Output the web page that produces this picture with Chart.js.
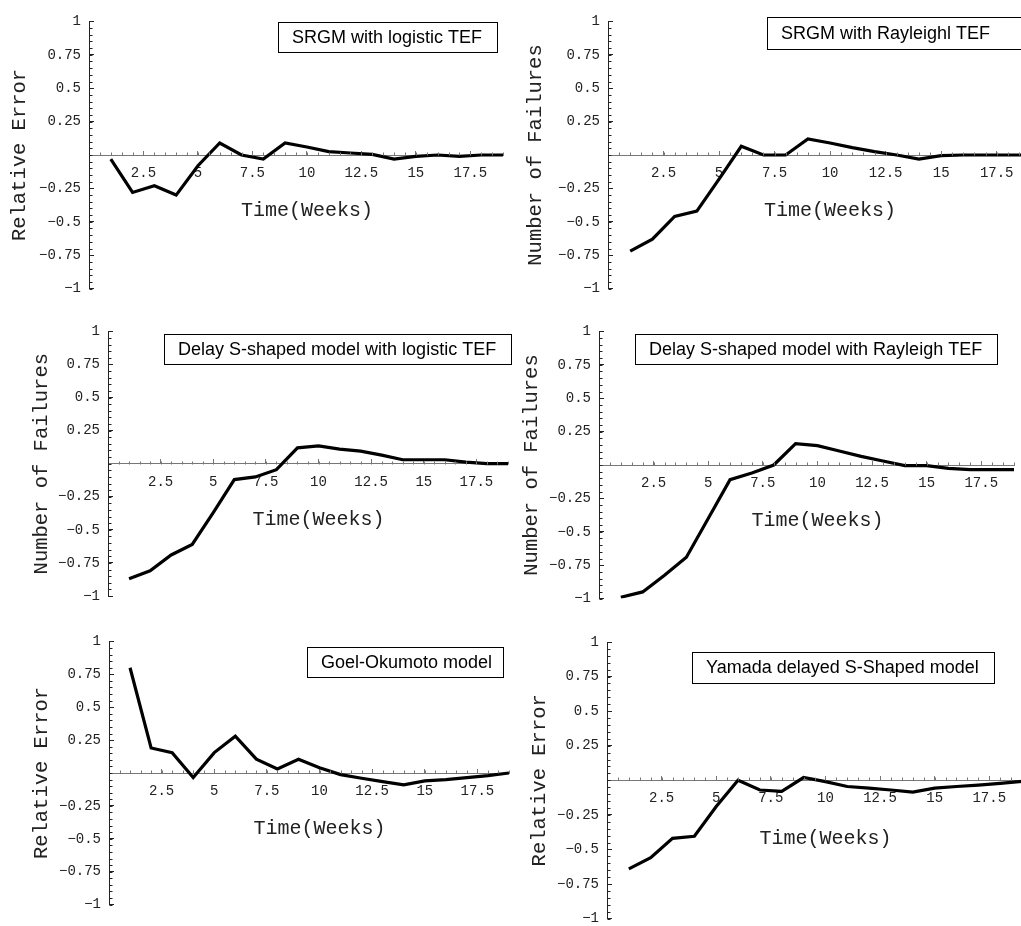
<!DOCTYPE html>
<html>
<head>
<meta charset="utf-8">
<script src="https://cdn.jsdelivr.net/npm/chart.js@4.4.1/dist/chart.umd.min.js"></script>
<style>
  html, body { margin: 0; padding: 0; background: #fff; overflow: hidden; width: 1021px; height: 926px; }
  canvas { position: absolute; }
</style>
</head>
<body>
<script>
// weeks on the x axis
const weeks = [1, 2, 3, 4, 5, 6, 7, 8, 9, 10, 11, 12, 13, 14, 15, 16, 17, 18, 19];

// relative error series
const srgmLogistic  = [-0.03, -0.28, -0.23, -0.30, -0.08, 0.09, 0.0, -0.03, 0.09, 0.06, 0.025, 0.015, 0.005, -0.03, -0.01, 0.0, -0.01, 0.0, 0.0];
const srgmRayleigh  = [-0.72, -0.63, -0.46, -0.42, -0.18, 0.065, 0.0, 0.0, 0.12, 0.09, 0.055, 0.025, 0.0, -0.03, -0.005, 0.0, 0.0, 0.0, 0.0];
const delayLogistic = [-0.87, -0.81, -0.69, -0.61, -0.37, -0.12, -0.10, -0.045, 0.12, 0.135, 0.11, 0.095, 0.065, 0.03, 0.03, 0.03, 0.012, 0.0, 0.0];
const delayRayleigh = [-0.99, -0.95, -0.825, -0.69, -0.40, -0.11, -0.06, 0.0, 0.16, 0.145, 0.105, 0.065, 0.03, -0.005, -0.005, -0.025, -0.035, -0.035, -0.035];
const goelOkumoto   = [0.80, 0.19, 0.155, -0.035, 0.155, 0.28, 0.105, 0.03, 0.105, 0.04, -0.012, -0.04, -0.065, -0.09, -0.06, -0.05, -0.035, -0.02, 0.0];
const yamadaDelayed = [-0.64, -0.56, -0.42, -0.405, -0.19, 0.0, -0.07, -0.08, 0.02, -0.01, -0.045, -0.057, -0.07, -0.085, -0.057, -0.045, -0.035, -0.022, -0.008];

// tick labels
const xTicks = [2.5, 5, 7.5, 10, 12.5, 15, 17.5];
const yTicks = [1, 0.75, 0.5, 0.25, -0.25, -0.5, -0.75, -1];

const MONO = '"Liberation Mono", "Courier New", monospace';
const SANS = '"Liberation Sans", Arial, sans-serif';

// axisLeft is where the y axis sits inside each canvas
const panels = [
  { data: srgmLogistic,  label: 'SRGM with logistic TEF',                yTitle: 'Relative Error',
    rect: [0, 0, 515, 310],     axisLeft: 89,  pad: { right: 12, top: 16, bottom: 16 },  box: [278, 22, 219, 30], yTitleX: 20 },
  { data: srgmRayleigh,  label: 'SRGM with Rayleighl TEF',               yTitle: 'Number of Failures',
    rect: [510, 0, 530, 310],   axisLeft: 98,  pad: { right: 10, top: 13, bottom: 14 },  box: [257, 17, 290, 32], yTitleX: 26 },
  { data: delayLogistic, label: 'Delay S-shaped model with logistic TEF', yTitle: 'Number of Failures',
    rect: [0, 310, 515, 310],   axisLeft: 108, pad: { right: 7, top: 16, bottom: 24 },   box: [164, 24, 347, 30], yTitleX: 42 },
  { data: delayRayleigh, label: 'Delay S-shaped model with Rayleigh TEF', yTitle: 'Number of Failures',
    rect: [510, 310, 530, 310], axisLeft: 89,  pad: { right: 26, top: 16, bottom: 17 },  box: [125, 24, 362, 30], yTitleX: 22 },
  { data: goelOkumoto,   label: 'Goel-Okumoto model',                    yTitle: 'Relative Error',
    rect: [0, 620, 515, 306],   axisLeft: 109, pad: { right: 6, top: 16, bottom: 19 },   box: [307, 27, 196, 30], yTitleX: 42 },
  { data: yamadaDelayed, label: 'Yamada delayed S-Shaped model',         yTitle: 'Relative Error',
    rect: [510, 620, 530, 320], axisLeft: 97,  pad: { right: 18, top: 22, bottom: 20 },  box: [182, 32, 302, 31], yTitleX: 30 }
];

// minor ticks, boxed caption and axis titles
const decor = {
  id: 'decor',
  afterDraw(chart, args, o) {
    const { ctx, chartArea: a, scales: { x, y } } = chart;
    ctx.save();
    ctx.lineWidth = 1;

    const y0 = Math.round(y.getPixelForValue(0)) + 0.5;
    ctx.strokeStyle = '#777';
    for (let i = 1; i <= 38; i++) {
      const px = Math.round(x.getPixelForValue(i * 0.5)) + 0.5;
      ctx.beginPath(); ctx.moveTo(px, y0); ctx.lineTo(px, y0 - 3); ctx.stroke();
    }
    const x0 = Math.round(a.left) + 0.5;
    ctx.strokeStyle = '#222';
    for (let i = -20; i <= 20; i++) {
      const py = Math.round(y.getPixelForValue(i * 0.05)) + 0.5;
      ctx.beginPath(); ctx.moveTo(x0, py); ctx.lineTo(x0 + 3, py); ctx.stroke();
    }

    const [bx, by, bw, bh] = o.box;
    ctx.strokeStyle = '#000';
    ctx.strokeRect(bx + 0.5, by + 0.5, bw, bh);
    ctx.fillStyle = '#000';
    ctx.font = '18px ' + SANS;
    ctx.textAlign = 'left';
    ctx.textBaseline = 'middle';
    ctx.fillText(o.label, bx + 14, by + bh / 2 + 1);

    ctx.fillStyle = '#222';
    ctx.font = '20px ' + MONO;
    ctx.textAlign = 'center';
    ctx.fillText('Time(Weeks)', x.getPixelForValue(10), y.getPixelForValue(-0.42));

    ctx.translate(o.yTitleX, (a.top + a.bottom) / 2);
    ctx.rotate(-Math.PI / 2);
    ctx.font = '20.5px ' + MONO;
    ctx.fillText(o.yTitle, 0, 0);
    ctx.restore();
  }
};

panels.forEach(p => {
  const c = document.createElement('canvas');
  const [l, t, w, h] = p.rect;
  c.width = w; c.height = h;
  c.style.left = l + 'px'; c.style.top = t + 'px';
  c.style.width = w + 'px'; c.style.height = h + 'px';
  document.body.appendChild(c);

  new Chart(c.getContext('2d'), {
    type: 'line',
    data: {
      datasets: [{
        data: weeks.map((wk, i) => ({ x: wk, y: p.data[i] })),
        borderColor: '#000',
        borderWidth: 3.2,
        pointRadius: 0,
        tension: 0,
        fill: false
      }]
    },
    options: {
      responsive: false,
      animation: false,
      layout: { padding: { left: 0, right: p.pad.right, top: p.pad.top, bottom: p.pad.bottom } },
      plugins: {
        legend: { display: false },
        tooltip: { enabled: false },
        decor: { label: p.label, yTitle: p.yTitle, box: p.box, yTitleX: p.yTitleX }
      },
      scales: {
        x: {
          type: 'linear',
          position: { y: 0 },
          min: 0, max: 19,
          afterBuildTicks: s => { s.ticks = xTicks.map(v => ({ value: v })); },
          grid: { drawOnChartArea: false, drawTicks: true, tickLength: -5, color: '#777' },
          border: { display: true, color: '#777', width: 1 },
          ticks: { padding: 15, color: '#222', font: { family: MONO, size: 14 }, maxRotation: 0, autoSkip: false,
                   callback: v => String(v) }
        },
        y: {
          type: 'linear',
          position: 'left',
          min: -1, max: 1,
          afterBuildTicks: s => { s.ticks = yTicks.map(v => ({ value: v })); },
          afterFit: s => { s.width = p.axisLeft; },
          grid: { drawOnChartArea: false, drawTicks: true, tickLength: -5, color: '#222' },
          border: { display: true, color: '#222', width: 1 },
          ticks: { padding: 13, color: '#222', font: { family: MONO, size: 14 }, autoSkip: false,
                   callback: v => String(v).replace('-', '\u2212') }
        }
      }
    },
    plugins: [decor]
  });
});
</script>
</body>
</html>
